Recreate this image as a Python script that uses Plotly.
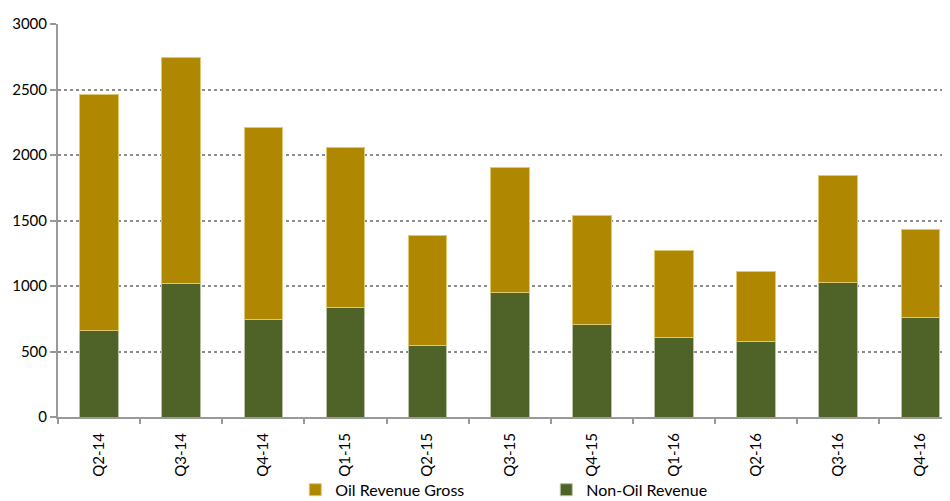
import plotly.graph_objects as go

quarters = ["Q2-14", "Q3-14", "Q4-14", "Q1-15", "Q2-15", "Q3-15", "Q4-15", "Q1-16", "Q2-16", "Q3-16", "Q4-16"]
non_oil = [657, 1020, 742, 839, 548, 953, 709, 607, 576, 1027, 757]
total = [2459, 2748, 2207, 2054, 1389, 1901, 1542, 1272, 1114, 1843, 1433]
oil = [t - n for t, n in zip(total, non_oil)]
y_ticks = [0, 500, 1000, 1500, 2000, 2500, 3000]

FONT = "Lato"

fig = go.Figure()
fig.add_trace(go.Bar(
    x=quarters, y=non_oil, name="Non-Oil Revenue",
    marker=dict(color="#4F6228", line=dict(color="#b9c2a4", width=1)),
    width=0.47,
))
fig.add_trace(go.Bar(
    x=quarters, y=oil, name="Oil Revenue Gross",
    marker=dict(color="#B08700", line=dict(color="#e0c870", width=1)),
    width=0.47,
))

fig.update_layout(
    barmode="stack",
    width=942, height=493,
    margin=dict(l=50, r=0, t=16, b=84, autoexpand=False),
    paper_bgcolor="white", plot_bgcolor="white",
    font=dict(family=FONT, size=15, color="#000000"),
    showlegend=True,
    legend=dict(
        orientation="h", traceorder="reversed",
        x=0.266, xanchor="left", y=-0.142, yanchor="top",
        bgcolor="rgba(0,0,0,0)",
        font=dict(family=FONT, size=16, color="#000"),
        entrywidth=206, itemwidth=30,
    ),
    xaxis=dict(
        type="category",
        range=[-0.5, 10.36],
        tickson="boundaries",
        ticks="outside", ticklen=5, tickcolor="#999999", tickwidth=2,
        tickangle=-90, ticklabelstandoff=8,
        showline=True, linecolor="#999999", linewidth=2,
        showgrid=False, automargin=False,
        tickfont=dict(family=FONT, size=15),
    ),
    yaxis=dict(
        range=[0, 3000],
        tickvals=y_ticks,
        ticks="outside", ticklen=6, tickcolor="#999999", tickwidth=2,
        showline=True, linecolor="#999999", linewidth=2,
        showgrid=True, gridcolor="#8c8c8c", gridwidth=1.5, griddash="dot",
        zeroline=False, automargin=False,
        tickfont=dict(family=FONT, size=15),
    ),
)

fig.write_html("out.html")
